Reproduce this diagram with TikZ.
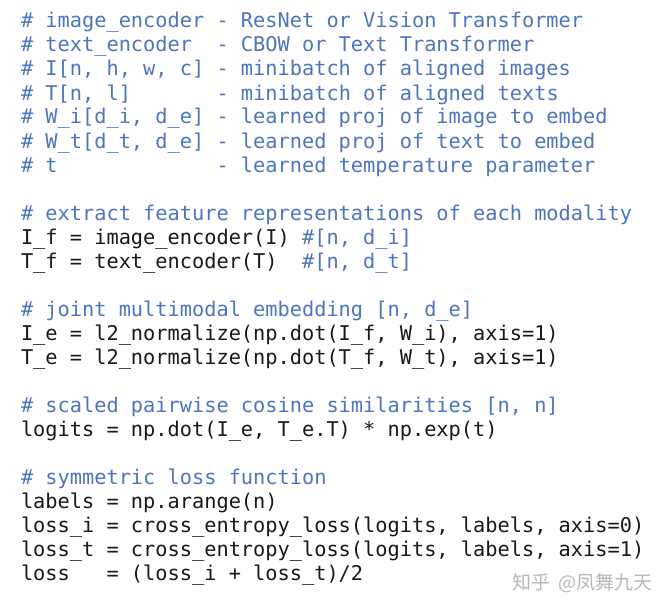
\documentclass[tikz,border=0pt]{standalone}
\usepackage{fontspec}
\setmonofont{DejaVu Sans Mono}
\newfontfamily\cjk{Noto Sans CJK SC}
\usepackage{xcolor}
\definecolor{cmtblue}{RGB}{78,118,188}
\definecolor{codeblack}{RGB}{25,25,25}

\begin{document}
\begin{tikzpicture}[x=1pt,y=-1pt,
  line/.style={anchor=base west,inner sep=0pt,outer sep=0pt,
    font=\ttfamily\fontsize{20.3}{24}\selectfont},
  cmt/.style={line,text=cmtblue},
  code/.style={line,text=codeblack}]
\useasboundingbox[fill=white] (0,0) rectangle (670,610);

% header comments
\node[cmt] (hd0) at (21,28) {\# image\_encoder - ResNet or Vision Transformer};
\node[cmt] (hd1) at (21,52) {\# text\_encoder~~- CBOW or Text Transformer};
\node[cmt] (hd2) at (21,76) {\# I[n, h, w, c] - minibatch of aligned images};
\node[cmt] (hd3) at (21,100) {\# T[n, l]~~~~~~~- minibatch of aligned texts};
\node[cmt] (hd4) at (21,124) {\# W\_i[d\_i, d\_e] - learned proj of image to embed};
\node[cmt] (hd5) at (21,148) {\# W\_t[d\_t, d\_e] - learned proj of text to embed};
\node[cmt] (hd6) at (21,172) {\# t~~~~~~~~~~~~~- learned temperature parameter};

% features
\node[cmt] (ft0) at (21,220) {\# extract feature representations of each modality};
\node[code] (ft1) at (21,244) {I\_f = image\_encoder(I) {\color{cmtblue}\#[n, d\_i]}};
\node[code] (ft2) at (21,268) {T\_f = text\_encoder(T)~~{\color{cmtblue}\#[n, d\_t]}};

% embedding
\node[cmt] (em0) at (21,316) {\# joint multimodal embedding [n, d\_e]};
\node[code] (em1) at (21,340) {I\_e = l2\_normalize(np.dot(I\_f, W\_i), axis=1)};
\node[code] (em2) at (21,364) {T\_e = l2\_normalize(np.dot(T\_f, W\_t), axis=1)};

% similarities
\node[cmt] (sm0) at (21,412) {\# scaled pairwise cosine similarities [n, n]};
\node[code] (sm1) at (21,436) {logits = np.dot(I\_e, T\_e.T) * np.exp(t)};

% loss
\node[cmt] (ls0) at (21,484) {\# symmetric loss function};
\node[code] (ls1) at (21,508) {labels = np.arange(n)};
\node[code] (ls2) at (21,532) {loss\_i = cross\_entropy\_loss(logits, labels, axis=0)};
\node[code] (ls3) at (21,556) {loss\_t = cross\_entropy\_loss(logits, labels, axis=1)};
\node[code] (ls4) at (21,580) {loss~~~= (loss\_i + loss\_t)/2};

% watermark
\node[anchor=base east,inner sep=0pt,text=black!28,font=\cjk\fontsize{19}{21}\selectfont]
  (mark) at (653,589) {知乎~~@凤舞九天};
\end{tikzpicture}
\end{document}
